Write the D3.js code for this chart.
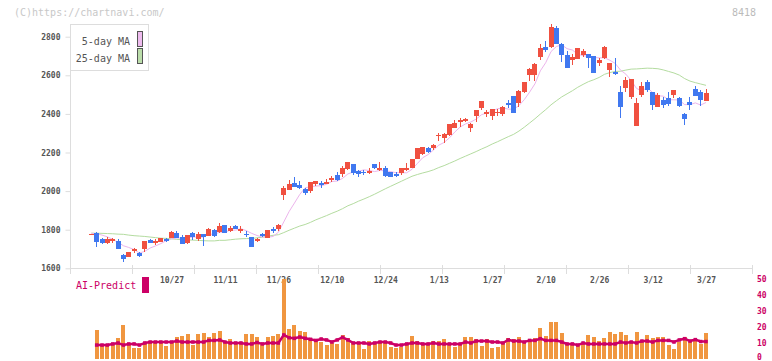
<!DOCTYPE html>
<html><head><meta charset="utf-8">
<script src="https://cdn.jsdelivr.net/npm/d3@7"></script>
<style>
html,body{margin:0;padding:0;background:#fff;}
svg{display:block;}
text{font-family:"DejaVu Sans Mono",monospace;}
</style></head>
<body>
<svg id="chart" width="772" height="361"></svg>
<script>
const dateLabels = ["10/27","11/11","11/26","12/10","12/24","1/13","1/27","2/10","2/26","3/12","3/27"];
const dateLabelIdx = [15,25,35,45,55,65,75,85,95,105,115];
const priceTicks = [1600,1800,2000,2200,2400,2600,2800];
const volTicks = [0,10,20,30,40,50];

const open = [1778,1784,1750,1733,1742,1743,1669,1660,1688,1678,
1698,1747,1730,1735,1750,1759,1784,1764,1731,1783,
1752,1779,1769,1800,1790,1824,1793,1821,1793,1779,
1762,1742,1779,1759,1804,1804,1981,2007,2044,2032,
2011,2002,2037,2044,2038,2059,2083,2089,2115,2142,
2106,2101,2095,2142,2111,2121,2101,2090,2095,2111,
2121,2168,2191,2225,2225,2286,2277,2292,2325,2358,
2363,2329,2389,2432,2398,2391,2405,2401,2455,2493,
2458,2512,2602,2602,2693,2748,2748,2844,2762,2705,
2681,2686,2705,2710,2700,2665,2688,2627,2617,2513,
2536,2489,2339,2498,2565,2513,2437,2472,2482,2498,
2482,2400,2462,2529,2513,2467];
const high = [1778,1790,1756,1761,1757,1750,1676,1686,1705,1683,
1742,1752,1750,1757,1756,1795,1795,1774,1773,1787,
1787,1779,1807,1805,1833,1824,1819,1826,1819,1795,
1762,1759,1784,1799,1816,1830,2026,2056,2073,2052,
2016,2047,2052,2052,2063,2078,2099,2132,2151,2142,
2111,2111,2121,2142,2152,2132,2101,2101,2121,2147,
2168,2225,2229,2230,2246,2303,2303,2348,2368,2380,
2380,2354,2422,2467,2422,2425,2425,2441,2472,2493,
2524,2564,2636,2662,2762,2778,2866,2855,2769,2726,
2710,2741,2735,2710,2700,2690,2752,2662,2688,2545,
2593,2581,2482,2567,2576,2513,2510,2489,2513,2524,
2488,2405,2488,2545,2524,2529];
const low = [1778,1712,1724,1724,1733,1698,1633,1659,1678,1657,
1683,1731,1722,1735,1736,1757,1757,1724,1728,1745,
1743,1714,1767,1764,1781,1784,1790,1802,1784,1764,
1712,1738,1762,1759,1781,1795,1954,2006,2023,2009,
1981,1989,2026,2018,2038,2046,2052,2075,2109,2085,
2072,2085,2090,2116,2106,2075,2072,2073,2082,2106,
2121,2168,2186,2197,2215,2261,2251,2287,2325,2334,
2357,2305,2360,2422,2386,2370,2389,2391,2432,2406,
2436,2507,2572,2570,2679,2722,2740,2761,2669,2639,
2653,2686,2695,2639,2610,2650,2684,2589,2604,2380,
2515,2479,2339,2489,2515,2422,2437,2432,2443,2484,
2437,2344,2420,2494,2443,2467];
const close = [1778,1738,1730,1753,1752,1700,1648,1685,1698,1665,
1742,1733,1742,1757,1742,1788,1759,1728,1773,1764,
1779,1764,1804,1769,1821,1784,1809,1805,1804,1774,
1712,1753,1767,1799,1793,1824,2015,2037,2023,2016,
1992,2047,2052,2033,2049,2069,2058,2120,2151,2095,
2090,2095,2106,2121,2121,2080,2075,2080,2121,2121,
2168,2225,2229,2203,2240,2292,2297,2348,2353,2368,
2374,2349,2422,2467,2411,2425,2411,2434,2446,2406,
2519,2564,2631,2659,2741,2731,2852,2761,2707,2639,
2695,2741,2726,2691,2612,2679,2747,2662,2608,2437,
2576,2581,2458,2545,2524,2446,2498,2446,2451,2524,
2443,2374,2448,2494,2472,2508];
const ma5 = [1782,1779,1772,1763,1750,1735,1717,1708,1697,1679,
1688,1705,1716,1728,1743,1752,1758,1755,1758,1762,
1761,1762,1777,1776,1787,1788,1797,1798,1805,1795,
1781,1770,1762,1761,1765,1787,1840,1894,1938,1983,
2017,2023,2026,2028,2035,2050,2052,2066,2089,2099,
2103,2110,2107,2101,2107,2105,2101,2095,2095,2095,
2113,2143,2173,2189,2213,2238,2252,2276,2306,2332,
2348,2358,2373,2396,2405,2415,2427,2430,2425,2424,
2443,2474,2513,2556,2623,2665,2723,2749,2758,2738,
2731,2709,2702,2698,2693,2690,2691,2678,2662,2627,
2606,2573,2532,2519,2537,2511,2494,2492,2473,2473,
2472,2448,2448,2457,2446,2459];
const ma25 = [1782,1782,1781,1780,1779,1777,1776,1772,1769,1767,
1765,1762,1759,1756,1755,1753,1750,1748,1747,1746,
1745,1743,1742,1742,1745,1745,1748,1751,1753,1754,
1754,1758,1761,1766,1771,1774,1785,1797,1808,1819,
1827,1838,1851,1862,1873,1885,1896,1909,1924,1935,
1948,1959,1971,1984,1998,2012,2025,2038,2051,2064,
2077,2086,2094,2101,2110,2122,2132,2144,2156,2169,
2181,2193,2205,2218,2230,2244,2256,2269,2282,2294,
2311,2331,2353,2375,2399,2422,2447,2468,2488,2504,
2520,2538,2553,2567,2577,2589,2605,2614,2620,2621,
2627,2632,2633,2635,2637,2636,2634,2628,2620,2612,
2601,2583,2570,2562,2555,2548];
const volume = [null,17.8,8.4,8.4,8.4,12.8,20.9,8.4,6.6,6.6,
9.1,10.3,10.3,10.3,7.8,10.3,13.4,14.1,15.3,8.4,
15.3,15.9,13.4,15.9,17.2,10.3,12.2,9.7,10.3,15.3,
15.3,13.4,8.4,13.4,14.1,15.3,50,18.4,20.9,17.2,
16.6,12.8,11.6,10.3,8.4,9.7,9.1,14.7,12.8,9.7,
9.7,5.9,10.9,9.1,9.7,9.7,7.2,6.6,7.2,9.7,
14.1,10.9,9.7,9.7,10.9,10.9,12.2,9.1,7.2,8.4,
13.4,13.4,12.2,7.8,12.2,6.6,7.2,9.7,12.8,12.2,
13.4,10.9,10.9,12.8,19.1,14.1,22.8,22.8,15.9,9.7,
9.7,8.4,9.7,14.7,13.4,10.9,12.8,16.6,15.3,16.6,
14.7,9.7,16.6,10.9,14.7,12.8,13.4,13.4,8.4,5.9,
10.3,13.4,10.3,12.2,9.1,15.9];
const aiPredict = [null,8.4,8.4,8.4,9.1,9.7,8.4,9.1,9.1,8.4,
9.7,10.3,10.3,10.3,10.3,10.3,10.9,10.3,10.3,10.3,
10.3,10.3,11.3,11.3,11.6,10.3,9.7,9.7,9.7,9.1,
9.1,10.0,9.1,9.7,9.7,9.7,14.7,13.0,12.6,13.4,
12.6,12.0,11.3,12.2,11.6,10.3,11.6,13.2,11.6,9.7,
9.7,9.7,9.1,9.7,10.3,10.3,9.7,8.4,8.4,9.1,
9.7,9.7,9.1,9.1,9.7,9.1,9.1,9.1,9.1,9.1,
10.3,9.7,10.9,10.9,10.9,10.3,10.3,9.7,11.6,10.9,
10.9,10.3,11.3,11.3,12.4,11.3,11.3,11.3,10.3,9.1,
9.1,8.4,9.7,9.1,9.1,9.1,9.1,9.1,9.1,10.3,
9.7,10.3,9.7,10.9,10.9,10.3,11.3,11.3,11.3,10.3,
11.6,12.4,10.9,11.8,10.6,10.6];

const svg = d3.select("#chart");
const axisCol = "#dddddd", labelCol = "#555555";
const upCol = "#f05040", downCol = "#4078f0";
const magenta = "#cc0066", orange = "#f09640";

const idx = d3.range(open.length);
const x = d3.scaleLinear().domain([-3.99, 123.6]).range([70, 752]);
const y = d3.scaleLinear().domain([1600, 2800]).range([268.3, 36.7]);
const yv = d3.scaleLinear().domain([0, 50]).range([358.5, 278.5]);
const grid = d3.scaleLinear().domain([0, 11]).range([70, 752]);

// header texts
svg.append("text").attr("x", 14).attr("y", 16).attr("font-size", 10).attr("fill", "#c8c8c8").text("(C)https://chartnavi.com/");
svg.append("text").attr("x", 756).attr("y", 16).attr("font-size", 10).attr("fill", "#bbbbbb").attr("text-anchor", "end").text("8418");

// y axis
const gy = svg.append("g").attr("transform", "translate(70.5,0)")
  .call(d3.axisLeft(y).tickValues(priceTicks).tickSize(5).tickPadding(5).tickFormat(d3.format("d")));
gy.select(".domain").remove();
gy.selectAll(".tick line").attr("stroke", axisCol);
gy.selectAll(".tick text").attr("font-size", 8).attr("fill", labelCol).attr("font-family", "DejaVu Sans Mono").attr("font-weight", "bold");
svg.append("line").attr("x1", 70.5).attr("x2", 70.5).attr("y1", 24).attr("y2", 268.5).attr("stroke", axisCol);

// x axis line and grid ticks
svg.append("line").attr("x1", 70).attr("x2", 753).attr("y1", 268.5).attr("y2", 268.5).attr("stroke", axisCol);
svg.append("g").selectAll("line").data(d3.range(12)).join("line")
  .attr("x1", d => Math.round(grid(d)) + 0.5).attr("x2", d => Math.round(grid(d)) + 0.5)
  .attr("y1", 265).attr("y2", 274).attr("stroke", axisCol);

// date labels
const gx = svg.append("g").attr("transform", "translate(0,277)")
  .call(d3.axisBottom(x).tickValues(dateLabelIdx).tickSize(0).tickPadding(0)
    .tickFormat((d, i) => dateLabels[i]));
gx.select(".domain").remove();
gx.selectAll(".tick text").attr("font-size", 8).attr("fill", labelCol).attr("font-family", "DejaVu Sans Mono").attr("font-weight", "bold");

// moving averages
svg.append("path").datum(ma25).attr("fill", "none").attr("stroke", "#b4dca0").attr("stroke-width", 1)
  .attr("d", d3.line().x((d, i) => x(i)).y(d => y(d)));
svg.append("path").datum(ma5).attr("fill", "none").attr("stroke", "#ecb4ec").attr("stroke-width", 1)
  .attr("d", d3.line().x((d, i) => x(i)).y(d => y(d)));

// candles
const cg = svg.append("g").attr("shape-rendering", "crispEdges");
const col = i => close[i] >= open[i] ? upCol : downCol;
cg.selectAll("line").data(idx).join("line")
  .attr("x1", i => Math.round(x(i) - 2.5) + 2.5).attr("x2", i => Math.round(x(i) - 2.5) + 2.5)
  .attr("y1", i => y(high[i])).attr("y2", i => y(low[i]))
  .attr("stroke", col).attr("stroke-width", 1);
cg.selectAll("rect").data(idx).join("rect")
  .attr("x", i => Math.round(x(i) - 2.5)).attr("width", 5)
  .attr("y", i => y(Math.max(open[i], close[i])))
  .attr("height", i => Math.max(1, y(Math.min(open[i], close[i])) - y(Math.max(open[i], close[i]))))
  .attr("fill", col);

// legend
svg.append("rect").attr("x", 70.5).attr("y", 24.5).attr("width", 78).attr("height", 46)
  .attr("fill", "#fff").attr("stroke", "#dddddd");
svg.append("text").attr("x", 130).attr("y", 45).attr("font-size", 10).attr("fill", "#555").attr("text-anchor", "end").text("5-day MA");
svg.append("text").attr("x", 130).attr("y", 62).attr("font-size", 10).attr("fill", "#555").attr("text-anchor", "end").text("25-day MA");
svg.append("rect").attr("x", 137.5).attr("y", 31.5).attr("width", 5).attr("height", 15).attr("fill", "#eebbee").attr("stroke", "#555");
svg.append("rect").attr("x", 137.5).attr("y", 48.5).attr("width", 5).attr("height", 15).attr("fill", "#bbddaa").attr("stroke", "#555");

// AI-Predict label
svg.append("text").attr("x", 76).attr("y", 289).attr("font-size", 10).attr("fill", magenta).text("AI-Predict");
svg.append("rect").attr("x", 142).attr("y", 277).attr("width", 7).attr("height", 16).attr("fill", magenta);

// right volume axis labels
svg.append("g").selectAll("text").data(volTicks).join("text")
  .attr("x", 757).attr("y", d => Math.min(yv(d) + 3, 360)).attr("font-size", 8).attr("font-weight", "bold")
  .attr("fill", magenta).text(d => d);

// volume bars
const vIdx = idx.filter(i => volume[i] != null);
svg.append("g").attr("shape-rendering", "crispEdges").selectAll("rect").data(vIdx).join("rect")
  .attr("x", i => Math.round(x(i) - 2)).attr("width", 4)
  .attr("y", i => yv(volume[i])).attr("height", i => yv(0) - yv(volume[i]))
  .attr("fill", orange);

// AI predict line
const aIdx = idx.filter(i => aiPredict[i] != null);
svg.append("path").datum(aIdx).attr("fill", "none").attr("stroke", magenta).attr("stroke-width", 2.5)
  .attr("d", d3.line().x(i => x(i)).y(i => yv(aiPredict[i])));
svg.append("g").selectAll("rect").data(aIdx).join("rect")
  .attr("x", i => x(i) - 1.75).attr("y", i => yv(aiPredict[i]) - 1.75)
  .attr("width", 3.5).attr("height", 3.5).attr("fill", magenta);
</script>
</body></html>
